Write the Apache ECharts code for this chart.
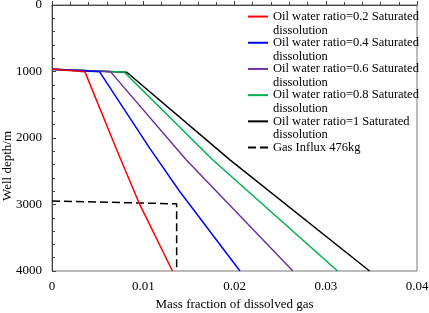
<!DOCTYPE html>
<html>
<head>
<meta charset="utf-8">
<script src="https://cdn.jsdelivr.net/npm/echarts@6/dist/echarts.min.js"></script>
<style>
	html, body { margin: 0; padding: 0; background: #fff; }
	#chart { width: 429px; height: 313px; }
</style>
</head>
<body>
<div id="chart"></div>
<script>
// data: [mass fraction, depth m]
var ratio02 = [ [ 0, 966 ], [ 0.0036, 1002 ], [ 0.0071, 2180 ], [ 0.0096, 2995 ], [ 0.0132, 4000 ] ];
var ratio04 = [ [ 0, 966 ], [ 0.0052, 1002 ], [ 0.0107, 2153 ], [ 0.014, 2804 ], [ 0.0206, 4000 ] ];
var ratio06 = [ [ 0, 966 ], [ 0.0064, 1002 ], [ 0.0147, 2328 ], [ 0.0264, 4000 ] ];
var ratio08 = [ [ 0, 966 ], [ 0.0079, 1008 ], [ 0.0176, 2328 ], [ 0.0313, 4000 ] ];
var ratio10 = [ [ 0, 966 ], [ 0.0082, 1011 ], [ 0.0195, 2328 ], [ 0.0348, 4000 ] ];
var gasInflux = [ [ 0, 2947 ], [ 0.01366, 2990 ], [ 0.01366, 4000 ] ];

var seriesNames = [
	'Oil water ratio=0.2 Saturated\ndissolution',
	'Oil water ratio=0.4 Saturated\ndissolution',
	'Oil water ratio=0.6 Saturated\ndissolution',
	'Oil water ratio=0.8 Saturated\ndissolution',
	'Oil water ratio=1 Saturated\ndissolution',
	'Gas Influx 476kg'
];
var seriesData = [ ratio02, ratio04, ratio06, ratio08, ratio10, gasInflux ];
var colorList = [ '#ff0000', '#0000ff', '#7030a0', '#00b050', '#000000', '#000000' ];

var font = '"Liberation Serif", "Times New Roman", serif';
var myChart = echarts.init(document.getElementById('chart'));

var series = seriesData.map(function(d, i) {
	return {
		name: seriesNames[i],
		type: 'line',
		data: d,
		symbol: 'none',
		z: i == 5 ? 1 : 10 - i,
		lineStyle: {
			color: colorList[i],
			width: 1.5,
			type: i == 5 ? [ 8, 4 ] : 'solid'
		},
		itemStyle: { color: colorList[i] }
	};
});

var option = {
	animation: false,
	grid: {
		left: 52,
		top: 5,
		right: 12,
		bottom: 42,
		outerBoundsMode: 'none',
		show: true,
		borderColor: '#777',
		borderWidth: 1
	},
	xAxis: {
		type: 'value',
		min: 0,
		max: 0.04,
		interval: 0.01,
		name: 'Mass fraction of dissolved gas',
		nameLocation: 'middle',
		nameGap: 26,
		nameTextStyle: { fontFamily: font, fontSize: 13, color: '#000' },
		axisLine: { lineStyle: { color: '#444' } },
		axisTick: { inside: true, length: 4, lineStyle: { color: '#444' } },
		minorTick: { show: true, splitNumber: 5, length: 3, lineStyle: { color: '#444' } },
		splitLine: { show: false },
		axisLabel: {
			fontFamily: font,
			fontSize: 13,
			color: '#000',
			margin: 9,
			formatter: function(v) {
				return v === 0 ? '0' : v.toFixed(2);
			}
		}
	},
	yAxis: {
		type: 'value',
		inverse: true,
		min: 0,
		max: 4000,
		interval: 1000,
		name: 'Well depth/m',
		nameLocation: 'middle',
		nameGap: 38,
		nameMoveOverlap: false,
		nameTextStyle: { fontFamily: font, fontSize: 13, color: '#000', padding: [ 0, 56, 0, 0 ] },
		axisLine: { lineStyle: { color: '#444' } },
		axisTick: { inside: true, length: 4, lineStyle: { color: '#444' } },
		minorTick: { show: true, splitNumber: 5, length: 3, lineStyle: { color: '#444' } },
		splitLine: { show: false },
		axisLabel: {
			fontFamily: font,
			fontSize: 13,
			color: '#000',
			margin: 10,
			formatter: function(v) {
				return String(v);
			}
		}
	},
	legend: {
		orient: 'vertical',
		left: 247,
		top: -4,
		padding: 0,
		itemWidth: 20,
		itemHeight: 12,
		itemGap: -14.9,
		itemStyle: { opacity: 0 },
		data: seriesNames,
		// 空行让图标对齐第一行文字
		formatter: function(name) {
			return name.indexOf('\n') > 0 ? '\n' + name : '\n' + name + '\n';
		},
		textStyle: {
			fontFamily: font,
			fontSize: 12.5,
			color: '#000',
			lineHeight: 13.7
		}
	},
	series: series
};
myChart.setOption(option);
</script>
</body>
</html>
